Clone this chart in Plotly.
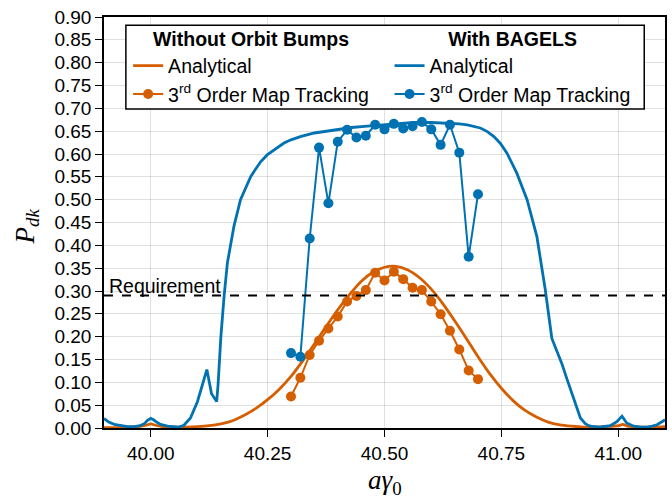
import plotly.graph_objects as go

ORANGE = "#D55E00"
BLUE = "#0072B2"

# analytical curve, without orbit bumps
orange_x = [39.900, 39.925, 39.950, 39.975, 39.990, 40.000, 40.010, 40.025, 40.050, 40.075,
            40.100, 40.125, 40.150, 40.175, 40.200, 40.225, 40.250, 40.275, 40.300, 40.325,
            40.350, 40.375, 40.400, 40.425, 40.450, 40.475, 40.500, 40.525, 40.550, 40.575,
            40.600, 40.625, 40.650, 40.675, 40.700, 40.725, 40.750, 40.775, 40.800, 40.825,
            40.850, 40.875, 40.900, 40.925, 40.950, 40.975, 41.000, 41.010, 41.020, 41.050,
            41.075, 41.100]
orange_y = [0.001, 0.001, 0.002, 0.003, 0.006, 0.009, 0.006, 0.003, 0.002, 0.002,
            0.003, 0.005, 0.009, 0.016, 0.028, 0.043, 0.062, 0.085, 0.113, 0.147,
            0.184, 0.222, 0.259, 0.292, 0.321, 0.341, 0.352, 0.354, 0.346, 0.329,
            0.304, 0.272, 0.235, 0.196, 0.156, 0.119, 0.087, 0.060, 0.039, 0.024,
            0.013, 0.007, 0.004, 0.002, 0.002, 0.003, 0.005, 0.008, 0.004, 0.002,
            0.002, 0.003]

# analytical curve, with BAGELS
blue_x = [39.900, 39.910, 39.922, 39.935, 39.950, 39.965, 39.977, 39.987, 39.993, 40.000,
          40.006, 40.014, 40.021, 40.036, 40.050, 40.060, 40.071, 40.085, 40.100, 40.110,
          40.120, 40.130, 40.141, 40.144, 40.150, 40.157, 40.164, 40.178, 40.192, 40.214,
          40.235, 40.249, 40.270, 40.285, 40.300, 40.320, 40.350, 40.392, 40.430, 40.463,
          40.520, 40.563, 40.600, 40.634, 40.660, 40.677, 40.692, 40.705, 40.720, 40.734,
          40.748, 40.762, 40.783, 40.805, 40.826, 40.844, 40.858, 40.868, 40.879, 40.890,
          40.901, 40.910, 40.919, 40.930, 40.940, 40.960, 40.983, 40.997, 41.008, 41.018,
          41.033, 41.048, 41.061, 41.073, 41.083, 41.097, 41.100]
blue_y = [0.021, 0.013, 0.008, 0.005, 0.003, 0.003, 0.005, 0.010, 0.017, 0.021,
          0.018, 0.012, 0.008, 0.004, 0.002, 0.002, 0.006, 0.022, 0.058, 0.095,
          0.128, 0.075, 0.058, 0.095, 0.200, 0.290, 0.362, 0.442, 0.500, 0.551,
          0.583, 0.598, 0.614, 0.624, 0.631, 0.638, 0.646, 0.653, 0.658, 0.661,
          0.666, 0.669, 0.669, 0.668, 0.666, 0.664, 0.661, 0.657, 0.649, 0.638,
          0.623, 0.602, 0.558, 0.500, 0.419, 0.302, 0.196, 0.170, 0.142, 0.108,
          0.076, 0.046, 0.022, 0.009, 0.004, 0.002, 0.005, 0.014, 0.026, 0.011,
          0.004, 0.002, 0.002, 0.004, 0.007, 0.016, 0.018]

# 3rd order map tracking
track_x = [40.30, 40.32, 40.34, 40.36, 40.38, 40.40, 40.42, 40.44, 40.46, 40.48, 40.50,
           40.52, 40.54, 40.56, 40.58, 40.60, 40.62, 40.64, 40.66, 40.68, 40.70]
track_orange = [0.069, 0.110, 0.160, 0.191, 0.218, 0.244, 0.277, 0.289, 0.302, 0.340, 0.323,
                0.342, 0.326, 0.307, 0.302, 0.277, 0.249, 0.213, 0.172, 0.126, 0.107]
track_blue = [0.164, 0.156, 0.415, 0.614, 0.492, 0.627, 0.653, 0.636, 0.640, 0.664, 0.654,
              0.666, 0.656, 0.661, 0.670, 0.654, 0.620, 0.664, 0.603, 0.375, 0.512]

requirement = 0.29

FONT = "Liberation Sans"
MATH = "Liberation Serif"
TXT = 19.5

fig = go.Figure()

fig.add_trace(go.Scatter(x=orange_x, y=orange_y, mode="lines", name="Analytical",
                         line=dict(color=ORANGE, width=2.8, shape="spline", smoothing=0.6),
                         legend="legend"))
fig.add_trace(go.Scatter(x=track_x, y=track_orange, mode="lines+markers",
                         name="3<sup>rd</sup> Order Map Tracking",
                         line=dict(color=ORANGE, width=2), marker=dict(color=ORANGE, size=10),
                         legend="legend"))
fig.add_trace(go.Scatter(x=blue_x, y=blue_y, mode="lines", name="Analytical",
                         line=dict(color=BLUE, width=2.8), legend="legend2"))
fig.add_trace(go.Scatter(x=track_x, y=track_blue, mode="lines+markers",
                         name="3<sup>rd</sup> Order Map Tracking",
                         line=dict(color=BLUE, width=2), marker=dict(color=BLUE, size=10),
                         legend="legend2"))

fig.add_hline(y=requirement, line=dict(color="black", width=2, dash="dash"))
fig.add_annotation(x=39.9, y=requirement, xref="x", yref="y", text="Requirement",
                   showarrow=False, xanchor="left", yanchor="bottom", xshift=3, yshift=-3,
                   font=dict(family=FONT, size=TXT, color="black"))

# axis titles
fig.add_annotation(x=0.5, y=0, xref="paper", yref="paper", yanchor="top", yshift=-35,
                   text="<i>aγ</i><sub>0</sub>", showarrow=False,
                   font=dict(family=MATH, size=27, color="black"))
fig.add_annotation(x=0, y=0.5, xref="paper", yref="paper", xanchor="right", xshift=-59,
                   yshift=-4, text="<i>P</i><sub><i>dk</i></sub>", showarrow=False,
                   textangle=-90, font=dict(family=MATH, size=27, color="black"))

# legend frame
fig.add_shape(type="rect", xref="paper", yref="paper", x0=0.039, x1=0.963, y0=0.776, y1=0.980,
              fillcolor="white", line=dict(color="black", width=1.5), layer="above")

leg_common = dict(font=dict(family=FONT, size=TXT, color="black"), bgcolor="rgba(0,0,0,0)",
                  borderwidth=0, xanchor="left", yanchor="top", itemwidth=30,
                  tracegroupgap=0)
fig.update_layout(
    legend=dict(x=0.043, y=0.99,
                title=dict(text="<b>Without Orbit Bumps</b>", side="top center",
                           font=dict(family=FONT, size=TXT)),
                **leg_common),
    legend2=dict(x=0.509, y=0.99,
                 title=dict(text="<b>With BAGELS</b>", side="top center",
                            font=dict(family=FONT, size=TXT)),
                 **leg_common),
)

axis_common = dict(showline=True, linecolor="black", linewidth=1.5, mirror=True,
                   ticks="outside", ticklen=7, tickwidth=1.2, tickcolor="black",
                   showgrid=True, gridcolor="rgba(0,0,0,0.12)", gridwidth=1,
                   zeroline=False, automargin=False,
                   tickfont=dict(family=FONT, size=19, color="black"))

fig.update_xaxes(range=[39.9, 41.1], tickvals=[40.0, 40.25, 40.5, 40.75, 41.0],
                 tickformat=".2f", **axis_common)
fig.update_yaxes(range=[0, 0.9], dtick=0.05, tickformat=".2f", **axis_common)

fig.update_layout(
    width=672, height=497,
    margin=dict(l=104, r=7, t=17, b=69),
    plot_bgcolor="white", paper_bgcolor="white",
    showlegend=True,
)

fig.write_html("out.html", config={"displayModeBar": False},
               post_script="document.body.style.margin = '0';")
